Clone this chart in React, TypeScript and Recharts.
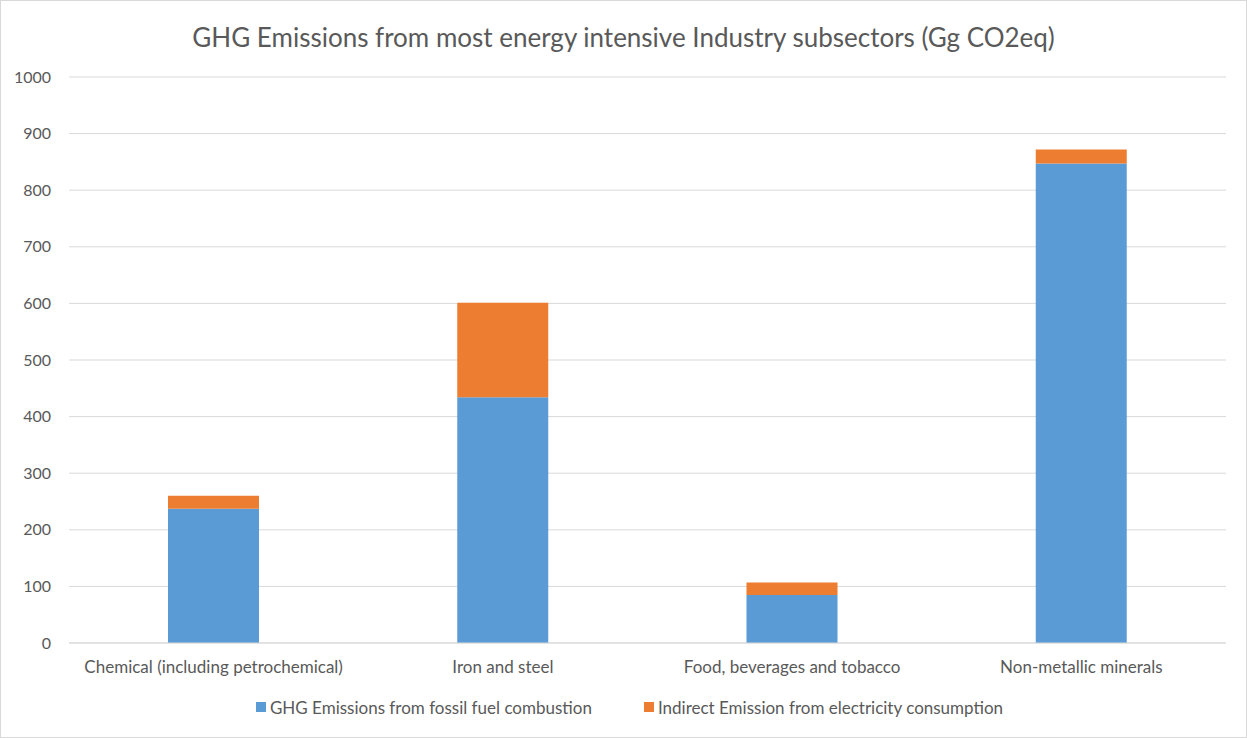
import { BarChart, Bar, XAxis, YAxis, CartesianGrid, Legend } from 'recharts';

const subsectors = [
  'Chemical (including petrochemical)',
  'Iron and steel',
  'Food, beverages and tobacco',
  'Non-metallic minerals',
];
const fossilFuel = [237, 434, 85, 847];
const electricity = [23, 167, 22, 25];
const yTicks = [0, 100, 200, 300, 400, 500, 600, 700, 800, 900, 1000];

const FONT = 'Lato, "Open Sans", sans-serif';
const TEXT = '#595959';
const BLUE = '#5B9BD5';
const ORANGE = '#ED7D31';

const data = subsectors.map((name, i) => ({
  name,
  fossil: fossilFuel[i],
  indirect: electricity[i],
}));

const legendItems = [
  { label: 'GHG Emissions from fossil fuel combustion', color: BLUE },
  { label: 'Indirect Emission from electricity consumption', color: ORANGE },
];

function LegendRow() {
  return (
    <div
      style={{
        height: 54,
        display: 'flex',
        justifyContent: 'center',
        alignItems: 'center',
        gap: 52,
        fontFamily: FONT,
        fontSize: 17,
        color: TEXT,
        marginTop: -3,
        paddingLeft: 30,
      }}
    >
      {legendItems.map((it) => (
        <div key={it.label} style={{ display: 'flex', alignItems: 'center' }}>
          <span style={{ width: 10, height: 10, background: it.color, marginRight: 4 }} />
          {it.label}
        </div>
      ))}
    </div>
  );
}

export default function App() {
  return (
    <div
      style={{
        position: 'fixed',
        left: 0,
        top: 0,
        width: 1245,
        height: 736,
        border: '1px solid #d9d9d9',
        background: '#fff',
      }}
    >
      <div
        style={{
          position: 'absolute',
          top: 20,
          left: 0,
          width: '100%',
          textAlign: 'center',
          fontFamily: FONT,
          fontSize: 26,
          color: TEXT,
        }}
      >
        GHG Emissions from most energy intensive Industry subsectors (Gg CO2eq)
      </div>
      <BarChart
        width={1245}
        height={736}
        data={data}
        margin={{ top: 76, right: 20, left: 2, bottom: 0 }}
        barSize={91}
      >
        <CartesianGrid vertical={false} stroke="#d9d9d9" />
        <XAxis
          dataKey="name"
          height={40}
          tickLine={false}
          axisLine={{ stroke: '#d9d9d9' }}
          tick={{ fill: TEXT, fontSize: 17, fontFamily: FONT }}
          tickMargin={12}
          interval={0}
        />
        <YAxis
          width={66}
          domain={[0, 1000]}
          ticks={yTicks}
          axisLine={false}
          tickLine={false}
          tick={{ fill: TEXT, fontSize: 16, fontFamily: FONT }}
          tickMargin={12}
        />
        <Legend verticalAlign="bottom" content={() => <LegendRow />} wrapperStyle={{ height: 54 }} />
        <Bar dataKey="fossil" stackId="a" fill={BLUE} isAnimationActive={false} />
        <Bar dataKey="indirect" stackId="a" fill={ORANGE} isAnimationActive={false} />
      </BarChart>
    </div>
  );
}
